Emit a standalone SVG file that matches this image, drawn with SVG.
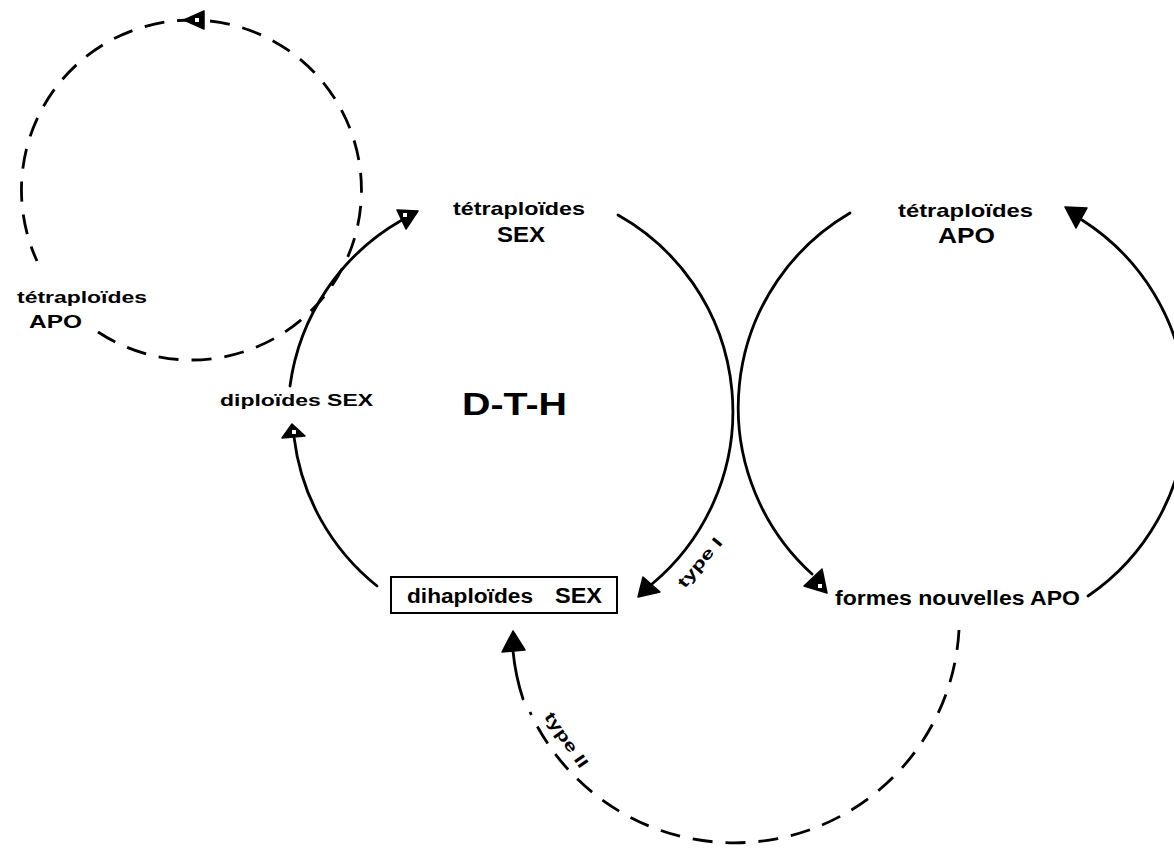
<svg xmlns="http://www.w3.org/2000/svg" width="1174" height="852" viewBox="0 0 1174 852">
<style>
  .ln{fill:none;stroke:#000;stroke-width:2.8;stroke-linecap:round}
  .ds{fill:none;stroke:#000;stroke-width:2.8;stroke-dasharray:20 13}
  .ah{fill:#000;stroke:#000;stroke-width:1.5;stroke-linejoin:round}
  .hole{fill:#fff}
  text{font-family:"Liberation Sans","Arial",sans-serif;font-weight:bold;fill:#000}
</style>
<rect width="1174" height="852" fill="#fff"/>
<g id="connectors">
  <!-- left big circle arcs -->
  <path class="ln" d="M 377,586 A 225 225 0 0 1 294,437"/>
  <path class="ln" d="M 290,386 A 225 225 0 0 1 402,220"/>
  <path class="ln" d="M 618,215 A 225 225 0 0 1 652,584"/>
  <!-- right big circle arcs -->
  <path class="ln" d="M 850,213 A 225 225 0 0 0 812,574"/>
  <path class="ln" d="M 1088,596 A 225 225 0 0 0 1082,220"/>
  <!-- top-left dashed circle -->
  <path class="ds" d="M 98,332 A 170 170 0 1 0 37,261"/>
  <!-- bottom dashed arc to dihaploides -->
  <path class="ds" d="M 959,630 A 225 225 0 0 1 530,712"/>
  <path class="ln" d="M 523,699 A 225 225 0 0 1 513,651"/>
  <!-- arrowheads -->
  <polygon class="ah" points="184,20 204,11 204,29"/>
  <rect class="hole" x="195" y="18" width="4" height="4"/>
  <polygon class="ah" points="397,210 418,211 406,229"/>
  <rect class="hole" x="403" y="213" width="4" height="4"/>
  <polygon class="ah" points="1065,207 1087,208 1076,228"/>
  <polygon class="ah" points="822,569 804,586 827,593"/>
  <rect class="hole" x="818" y="584" width="4" height="4"/>
  <polygon class="ah" points="643,577 638,597 660,592"/>
  <polygon class="ah" points="292,424 282,438 305,436"/>
  <rect class="hole" x="292" y="430" width="4" height="4"/>
  <polygon class="ah" points="513,631 502,652 525,650"/>
  <!-- edge labels -->
  <text transform="translate(704,566) rotate(-50)" font-size="16" text-anchor="middle" textLength="60" lengthAdjust="spacingAndGlyphs">type I</text>
  <text transform="translate(562,743) rotate(55)" font-size="16" text-anchor="middle" textLength="64" lengthAdjust="spacingAndGlyphs">type II</text>
</g>
<g id="tetra-sex">
  <text x="453" y="215" font-size="19" textLength="132" lengthAdjust="spacingAndGlyphs">tétraploïdes</text>
  <text x="497" y="242" font-size="22" textLength="48" lengthAdjust="spacingAndGlyphs">SEX</text>
</g>
<g id="tetra-apo-right">
  <text x="898" y="217" font-size="19" textLength="135" lengthAdjust="spacingAndGlyphs">tétraploïdes</text>
  <text x="938" y="243" font-size="22" textLength="57" lengthAdjust="spacingAndGlyphs">APO</text>
</g>
<g id="tetra-apo-left">
  <text x="17" y="303" font-size="17" textLength="130" lengthAdjust="spacingAndGlyphs">tétraploïdes</text>
  <text x="29" y="328" font-size="18" textLength="53" lengthAdjust="spacingAndGlyphs">APO</text>
</g>
<g id="diploides-sex">
  <text x="220" y="406" font-size="17" textLength="153" lengthAdjust="spacingAndGlyphs">diploïdes SEX</text>
</g>
<g id="dth">
  <text x="462" y="415" font-size="31" textLength="105" lengthAdjust="spacingAndGlyphs">D-T-H</text>
</g>
<g id="dihaploides-sex">
  <rect x="391" y="577" width="226" height="36" fill="none" stroke="#000" stroke-width="2"/>
  <text x="407" y="603" font-size="20" textLength="126" lengthAdjust="spacingAndGlyphs">dihaploïdes</text>
  <text x="555" y="603" font-size="22" textLength="47" lengthAdjust="spacingAndGlyphs">SEX</text>
</g>
<g id="formes-nouvelles">
  <text x="835" y="605" font-size="20" textLength="245" lengthAdjust="spacingAndGlyphs">formes nouvelles APO</text>
</g>
</svg>
